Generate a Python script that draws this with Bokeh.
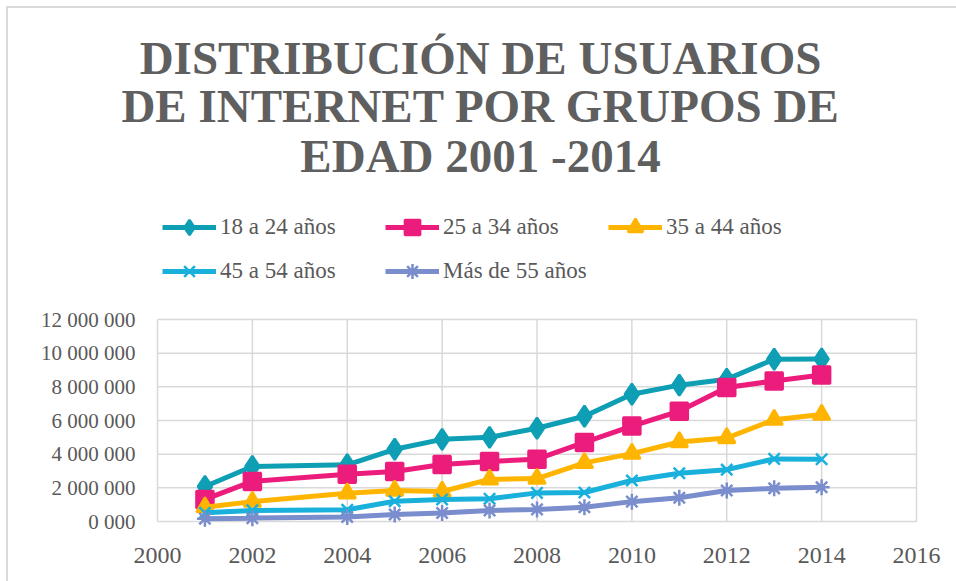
from bokeh.plotting import figure
from bokeh.models import Legend, LegendItem, FixedTicker, ColumnDataSource
from bokeh.core.properties import value
from bokeh.embed import file_html
from bokeh.resources import INLINE

years = [2001, 2002, 2004, 2005, 2006, 2007, 2008, 2009, 2010, 2011, 2012, 2013, 2014]
s_18_24 = [2080000, 3270000, 3370000, 4290000, 4880000, 5000000, 5540000, 6250000, 7560000, 8100000, 8450000, 9640000, 9650000]
s_25_34 = [1310000, 2380000, 2800000, 2970000, 3390000, 3570000, 3700000, 4700000, 5670000, 6550000, 7960000, 8350000, 8700000]
s_35_44 = [850000, 1180000, 1680000, 1840000, 1780000, 2500000, 2550000, 3480000, 4030000, 4720000, 4960000, 6050000, 6350000]
s_45_54 = [520000, 660000, 700000, 1200000, 1310000, 1350000, 1700000, 1720000, 2440000, 2870000, 3080000, 3720000, 3700000]
s_55 = [170000, 200000, 270000, 420000, 500000, 660000, 720000, 850000, 1180000, 1410000, 1840000, 1970000, 2030000]

series_names = ["18 a 24 años", "25 a 34 años", "35 a 44 años", "45 a 54 años", "Más de 55 años"]
x_ticks = [2000, 2002, 2004, 2006, 2008, 2010, 2012, 2014, 2016]
y_ticks = [0, 2000000, 4000000, 6000000, 8000000, 10000000, 12000000]
y_tick_labels = ["0 000", "2 000 000", "4 000 000", "6 000 000", "8 000 000", "10 000 000", "12 000 000"]
title_lines = ["DISTRIBUCIÓN DE USUARIOS", "DE INTERNET POR GRUPOS DE", "EDAD 2001 -2014"]

colors = ["#0F9FB5", "#EC1C7C", "#FFB500", "#1AB0DC", "#7A8DCC"]
markers = ["diamond", "square", "triangle", "x", "asterisk"]
msizes = [21, 17, 17, 16, 16]

TXT = "#595959"
GRID = "#d9d9d9"
SERIF = "Liberation Serif"

# layout (pixels)
W, H = 956, 581
FRAME_BOTTOM = 536                     # frame spans from canvas top to here
PLOT_L, PLOT_R, PLOT_T, PLOT_B = 157, 916, 319, 521   # plotting box inside frame

x0, x1 = x_ticks[0], x_ticks[-1]
y0, y1 = y_ticks[0], y_ticks[-1]
xs = (x1 - x0) / (PLOT_R - PLOT_L)
ys = (y1 - y0) / (PLOT_B - PLOT_T)
xr = (x0 - PLOT_L * xs, x1 + (W - PLOT_R) * xs)
yr = (y0 - (FRAME_BOTTOM - PLOT_B) * ys, y0 + PLOT_B * ys)


def px_x(px):
    return x0 + (px - PLOT_L) * xs


def px_y(py):
    return y0 + (PLOT_B - py) * ys


p = figure(width=W, height=H, output_backend="svg", toolbar_location=None,
           x_range=xr, y_range=yr,
           min_border_left=0, min_border_right=0, min_border_top=0,
           min_border_bottom=H - FRAME_BOTTOM)
p.background_fill_alpha = 0
p.border_fill_alpha = 0
p.outline_line_color = None
p.grid.visible = False
p.yaxis.visible = False
p.styles = {
    "background": "linear-gradient(#d9d9d9,#d9d9d9) 6px 6px / 2px 100% no-repeat, "
                  "linear-gradient(#d9d9d9,#d9d9d9) 6px 6px / 100% 2px no-repeat"
}

# grid lines of the plotting box
p.segment(x0=[x0] * len(y_ticks), x1=[x1] * len(y_ticks), y0=y_ticks, y1=y_ticks,
          line_color=GRID, line_width=1.5)
p.segment(x0=x_ticks, x1=x_ticks, y0=[y0] * len(x_ticks), y1=[y1] * len(x_ticks),
          line_color=GRID, line_width=1.5)

# y tick labels
p.text(x=[x0] * len(y_ticks), y=y_ticks, text=y_tick_labels, x_offset=-22,
       text_align="right", text_baseline="middle", text_font=value(SERIF),
       text_font_size="21px", text_color=TXT)

# title
title_y = [57, 105, 155]
p.text(x=[px_x(480)] * 3, y=[px_y(t) for t in title_y], text=title_lines,
       text_align="center", text_baseline="middle", text_font=value(SERIF),
       text_font_size="47px", text_font_style="bold", text_color="#5f5f5f")

items = {}
data = [s_18_24, s_25_34, s_35_44, s_45_54, s_55]
for name, vals, c, m, ms in zip(series_names, data, colors, markers, msizes):
    src = ColumnDataSource(dict(x=years, y=vals))
    r1 = p.line("x", "y", source=src, line_color=c, line_width=5)
    r2 = p.scatter("x", "y", source=src, marker=m, size=ms, fill_color=c,
                   line_color=c, line_width=2.5)
    items[name] = LegendItem(label=name, renderers=[r1, r2])

# legend fills column by column: order items so rows read left to right
order = [0, 3, 1, 4, 2]
leg = Legend(items=[items[series_names[i]] for i in order], nrows=2,
             location=(162, FRAME_BOTTOM - 290),
             label_text_font=SERIF, label_text_font_size="23px", label_text_color=TXT,
             glyph_width=54, glyph_height=38, spacing=5, label_standoff=4,
             label_width=160, label_height=39,
             border_line_color=None, background_fill_alpha=0, margin=0, padding=0)
p.add_layout(leg, "center")

p.xaxis.ticker = FixedTicker(ticks=x_ticks)
p.xaxis.axis_line_color = None
p.xaxis.major_tick_line_color = None
p.xaxis.minor_tick_line_color = None
p.xaxis.major_label_text_font = SERIF
p.xaxis.major_label_text_color = TXT
p.xaxis.major_label_text_font_size = "24px"
p.xaxis.major_label_standoff = 5

open("out.html", "w").write(file_html(p, INLINE))
